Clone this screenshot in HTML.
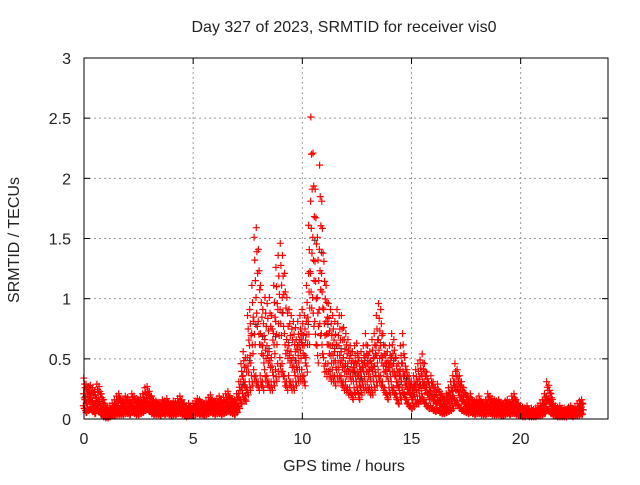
<!DOCTYPE html>
<html><head><meta charset="utf-8"><style>
body{margin:0;background:#fff}
svg text{font-family:"Liberation Sans",sans-serif;font-size:16px;fill:#222}
</style></head><body>
<svg id="c" width="640" height="480">
<text x="344" y="32" text-anchor="middle">Day 327 of 2023, SRMTID for receiver vis0</text>
<text x="344" y="471" text-anchor="middle">GPS time / hours</text>
<text transform="translate(19,240) rotate(-90)" text-anchor="middle">SRMTID / TECUs</text>
<g id="grid"></g><g id="pts"></g><g id="axes"></g>
</svg>
<script>
const xTicks=[0,5,10,15,20];
const yTicks=[0,0.5,1,1.5,2,2.5,3];
const yTickLabels=["0","0.5","1","1.5","2","2.5","3"];
const hi=[.33,.28,.26,.27,.25,.22,.28,.26,.2,.15,.1,.08,.1,.12,.15,.18,.2,.16,.15,.18,.17,.15,.2,.18,.16,.15,.17,.2,.25,.26,.22,.18,.15,.14,.13,.12,.15,.14,.16,.13,.12,.14,.13,.16,.18,.15,.12,.1,.12,.1,.12,.14,.16,.15,.13,.12,.14,.17,.19,.15,.14,.16,.18,.15,.17,.2,.22,.18,.16,.15,.2,.3,.45,.55,.5,.85,.9,1.1,1.5,1.58,1.4,1.1,.9,1.0,.95,1.0,.85,1.1,1.25,1.35,1.45,1.35,1.2,1.0,.9,.85,.8,.75,.8,.85,.9,.85,1.1,1.6,2.5,2.2,1.9,1.5,2.1,1.8,1.3,1.1,.95,.9,.85,.8,.9,.85,.85,.75,.7,.65,.6,.55,.6,.62,.5,.55,.6,.7,.6,.55,.65,.7,.85,.95,.9,.7,.6,.55,.6,.7,.65,.5,.45,.6,.7,.5,.4,.35,.3,.35,.4,.45,.48,.53,.45,.38,.3,.35,.3,.25,.28,.22,.2,.18,.2,.25,.3,.35,.45,.4,.35,.3,.25,.2,.18,.2,.15,.14,.15,.18,.14,.13,.15,.2,.18,.16,.15,.14,.15,.13,.12,.14,.15,.13,.18,.2,.15,.12,.1,.09,.08,.1,.07,.08,.07,.08,.1,.12,.15,.2,.3,.27,.2,.12,.1,.09,.1,.08,.08,.07,.09,.1,.08,.09,.12,.14,.15];
const mid=[.2,.15,.18,.17,.14,.12,.16,.15,.1,.08,.05,.04,.05,.07,.08,.1,.1,.09,.08,.1,.1,.09,.12,.1,.09,.08,.1,.12,.15,.16,.13,.1,.09,.08,.08,.07,.09,.08,.1,.08,.07,.08,.08,.1,.1,.09,.07,.06,.07,.06,.07,.08,.1,.09,.08,.07,.09,.1,.11,.09,.08,.1,.11,.09,.1,.12,.13,.11,.1,.09,.12,.2,.3,.35,.3,.5,.6,.7,.8,1.0,.8,.7,.6,.65,.6,.55,.5,.7,.8,.9,.9,1.0,.7,.65,.6,.55,.5,.55,.6,.65,.7,.6,.8,1.2,1.8,1.5,1.3,1.0,1.4,1.2,.9,.8,.7,.6,.6,.55,.6,.6,.55,.5,.45,.45,.4,.4,.45,.45,.35,.4,.45,.5,.45,.4,.45,.5,.6,.65,.6,.5,.45,.4,.45,.5,.45,.35,.3,.4,.45,.35,.28,.25,.2,.25,.28,.3,.32,.35,.3,.25,.2,.22,.18,.15,.17,.14,.12,.11,.12,.15,.18,.22,.3,.28,.22,.18,.15,.12,.11,.12,.1,.09,.1,.11,.09,.08,.09,.12,.11,.1,.09,.09,.1,.08,.08,.09,.1,.08,.11,.12,.1,.08,.06,.06,.05,.06,.05,.05,.05,.05,.06,.07,.09,.12,.18,.16,.12,.08,.07,.06,.06,.05,.05,.05,.06,.06,.05,.06,.07,.08,.09];
const lo=[.1,.06,.08,.09,.07,.05,.08,.07,.04,.02,.01,.01,.02,.03,.03,.04,.04,.04,.04,.05,.05,.04,.06,.05,.04,.04,.05,.06,.08,.09,.07,.05,.04,.04,.04,.03,.05,.04,.05,.04,.03,.04,.04,.05,.05,.04,.03,.02,.03,.03,.03,.04,.05,.04,.04,.03,.04,.05,.06,.05,.04,.05,.05,.04,.05,.06,.07,.06,.05,.04,.06,.1,.15,.2,.18,.25,.3,.35,.4,.35,.3,.35,.3,.4,.35,.3,.3,.35,.4,.45,.5,.45,.35,.3,.35,.3,.3,.35,.4,.4,.4,.35,.5,.8,1.2,1.0,.8,.6,.9,.7,.5,.45,.45,.4,.4,.35,.4,.4,.35,.3,.3,.25,.25,.2,.25,.3,.2,.25,.3,.3,.3,.25,.25,.3,.35,.4,.35,.3,.25,.2,.25,.3,.25,.2,.15,.2,.25,.2,.15,.12,.1,.12,.15,.15,.18,.2,.15,.12,.1,.1,.08,.07,.08,.06,.05,.05,.06,.07,.08,.1,.15,.14,.1,.08,.07,.06,.05,.06,.05,.04,.05,.05,.04,.04,.04,.05,.05,.04,.04,.04,.04,.03,.03,.04,.05,.04,.05,.05,.04,.03,.03,.02,.02,.03,.02,.02,.02,.02,.03,.03,.04,.05,.08,.07,.05,.03,.03,.02,.02,.02,.02,.02,.03,.03,.02,.03,.03,.04,.04];
const X0=84,X1=608,Y0=419,Y1=58;
const xs=h=>X0+h/24*(X1-X0), ys=v=>Y0-v/3*(Y0-Y1);
const NS="http://www.w3.org/2000/svg";
function mk(t,a,p){const e=document.createElementNS(NS,t);for(const k in a)e.setAttribute(k,a[k]);p.appendChild(e);return e;}
const grid=document.getElementById('grid'),axes=document.getElementById('axes'),pts=document.getElementById('pts');
xTicks.forEach((t,i)=>{const x=xs(t);
 if(t>0){const g=mk('line',{x1:x,x2:x,y1:Y0,y2:Y1,stroke:'#999','stroke-dasharray':'2,3'},grid);
 
 }
 mk('line',{x1:x,x2:x,y1:Y0,y2:Y0-6,stroke:'#000'},axes);mk('line',{x1:x,x2:x,y1:Y1,y2:Y1+6,stroke:'#000'},axes);
 const l=mk('text',{x:x,y:Y0+25,'text-anchor':'middle'},axes);l.textContent=t;
 
 });
yTicks.forEach((t,i)=>{const y=ys(t);
 if(t>0&&t<3){const g=mk('line',{x1:X0,x2:X1,y1:y,y2:y,stroke:'#999','stroke-dasharray':'2,3'},grid);
 
 }
 mk('line',{x1:X0,x2:X0+6,y1:y,y2:y,stroke:'#000'},axes);mk('line',{x1:X1,x2:X1-6,y1:y,y2:y,stroke:'#000'},axes);
 const l=mk('text',{x:X0-13,y:y+6,'text-anchor':'end'},axes);l.textContent=yTickLabels[i];
 
 });
const fr=mk('rect',{x:X0,y:Y1,width:X1-X0,height:Y0-Y1,fill:'none',stroke:'#000'},axes);


let d='',db='';
const offs=[-0.03,0,0.03];
[lo,mid,hi].forEach((arr,k)=>arr.forEach((v,i)=>{const h=i*0.1;
 offs.forEach((o,j)=>{const x=xs(h+o+k*0.01),y=ys(v*(1-0.12*j)+(j==1?0:0.01));
  d+=`M${x-3.5},${y}h7M${x},${y-3.5}v7`;
  if(k==1&&j==0&&i%3==0)db+=`M${x-3.5+2},${y+3}h7M${x+2},${y-0.5}v7`;});}));
const pb=mk('path',{d:db,stroke:'#333','stroke-width':1,fill:'none'},pts);


const pr=mk('path',{d:d,stroke:'#f00','stroke-width':1.2,fill:'none'},pts);


</script>
</body></html>
